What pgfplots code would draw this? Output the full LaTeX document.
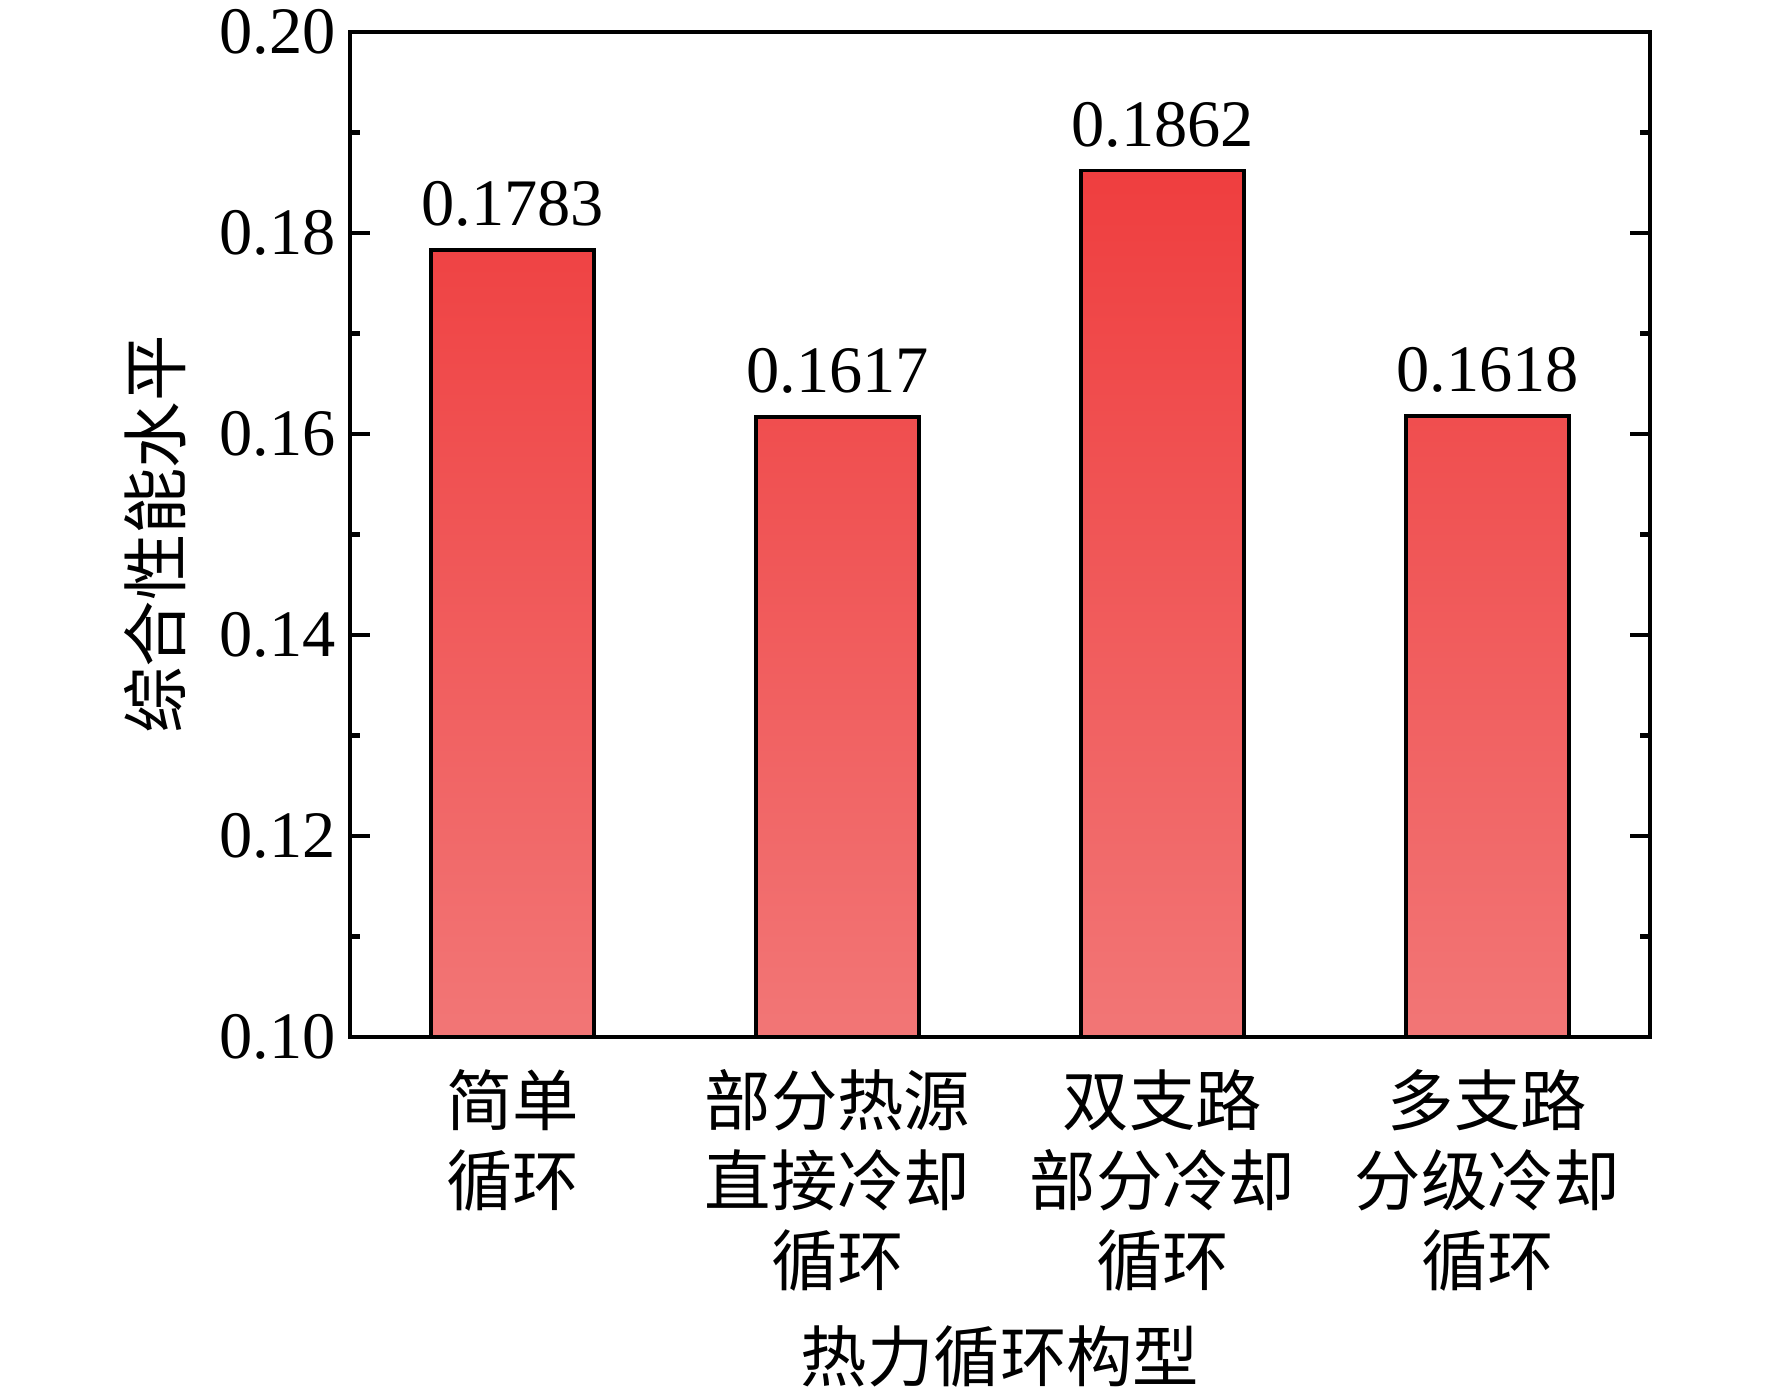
\documentclass[border=0pt]{standalone}
\usepackage{pgfplots}
\pgfplotsset{compat=1.18}
\usepackage{fontspec}
\setmainfont{Liberation Serif}
\newfontfamily\cjk{Noto Sans CJK SC}
\definecolor{barTop}{HTML}{EF3E3F}
\definecolor{barBot}{HTML}{F27676}
\newcommand\fs{\fontsize{16.6}{20}\selectfont}
\begin{document}
\begin{tikzpicture}
\path[use as bounding box] (0,0) rectangle (443pt,348.75pt);
\begin{axis}[
  at={(87.5pt,89.5pt)}, anchor=south west,
  scale only axis, width=325pt, height=251.25pt,
  xmin=-0.5, xmax=3.5, ymin=0.1, ymax=0.2,
  y coord trafo/.code={\pgfmathparse{#1-0.1}},
  y coord inv trafo/.code={\pgfmathparse{#1+0.1}},
  axis line style={line width=1.1pt},
  /pgf/number format/assume math mode=true,
  ytick={0.1,0.12,0.14,0.16,0.18,0.2},
  minor ytick={0.11,0.13,0.15,0.17,0.19},
  tick align=inside,
  ytick pos=both,
  major tick length=5pt, minor tick length=2.5pt,
  every tick/.style={line width=1.1pt, black},
  every minor tick/.style={line width=1.1pt, black},
  scaled y ticks=false,
  yticklabel style={font=\fs, /pgf/number format/fixed, /pgf/number format/precision=2, /pgf/number format/fixed zerofill},
  xtick={0,1,2,3},
  xticklabels={{简单\\循环},{部分热源\\直接冷却\\循环},{双支路\\部分冷却\\循环},{多支路\\分级冷却\\循环}},
  xtick style={draw=none},
  xticklabel style={font=\cjk\fs, align=center, yshift=-4.5pt},
  xlabel={\cjk 热力循环构型},
  xlabel style={font=\fs, at={(axis description cs:0.5,-0.318)}, anchor=center},
  ylabel={\cjk 综合性能水平},
  ylabel style={font=\fs, at={(axis description cs:-0.15,0.5)}, anchor=center},
]
\addplot[ybar, bar width=0.5, draw=black, line width=0.9pt,
  top color=barTop, bottom color=barBot,
  nodes near coords, point meta=rawy,
  nodes near coords style={font=\fs, text=black, /pgf/number format/fixed, /pgf/number format/precision=4, /pgf/number format/fixed zerofill, anchor=south, yshift=2pt}]
  coordinates {(0,0.1783) (1,0.1617) (2,0.1862) (3,0.1618)};
\end{axis}
\end{tikzpicture}
\end{document}
